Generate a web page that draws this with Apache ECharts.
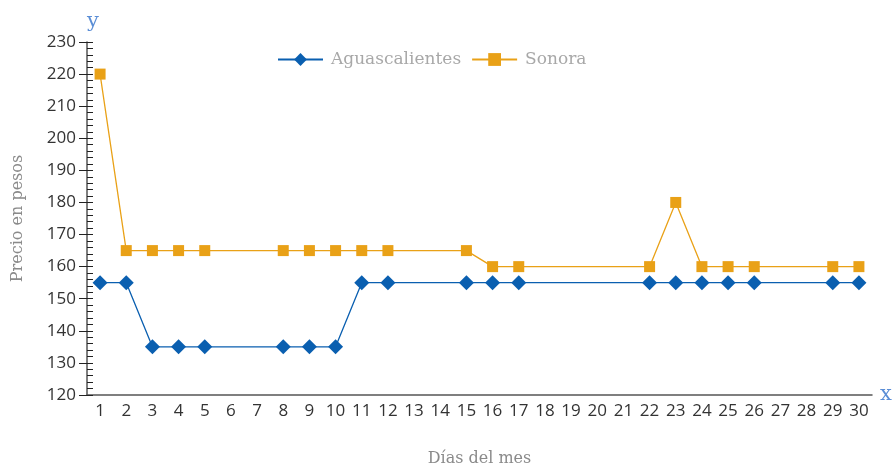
<!DOCTYPE html>
<html>
<head>
<meta charset="utf-8">
<script src="https://cdn.jsdelivr.net/npm/echarts@6/dist/echarts.min.js"></script>
<style>
  html, body { margin: 0; padding: 0; background: #fff; }
  #chart { width: 894px; height: 467px; }
</style>
</head>
<body>
<div id="chart"></div>
<script>
// Days of the month (category axis) and prices; null = no reading that day
const days = Array.from({ length: 30 }, (_, i) => String(i + 1));

const aguascalientes = [155, 155, 135, 135, 135, null, null, 135, 135, 135,
                        155, 155, null, null, 155, 155, 155, null, null, null,
                        null, 155, 155, 155, 155, 155, null, null, 155, 155];

const sonora = [220, 165, 165, 165, 165, null, null, 165, 165, 165,
                165, 165, null, null, 165, 160, 160, null, null, null,
                null, 160, 180, 160, 160, 160, null, null, 160, 160];

const yMin = 120, yMax = 230, yStep = 10;

const BLUE = "#0a5fb0";
const ORANGE = "#e9a117";
const AXIS = "#555";
const NAME_BLUE = "#5b8ed6";
const SERIF = "'DejaVu Serif', 'Liberation Serif', serif";
const SANS = "'Open Sans', 'Noto Sans', sans-serif";

const chart = echarts.init(document.getElementById("chart"), null, { renderer: "canvas" });

const xBase = {
  type: "category",
  data: days,
  boundaryGap: true,
  splitLine: { show: false },
};
const yBase = {
  type: "value",
  min: yMin,
  max: yMax,
  interval: yStep,
  splitLine: { show: false },
};

chart.setOption({
  animation: false,
  backgroundColor: "#fff",
  grid: { left: 87, right: 22, top: 42, bottom: 72, outerBoundsMode: "none", containLabel: false },
  legend: {
    left: 272,
    top: 46,
    itemWidth: 45,
    itemHeight: 16,
    itemGap: 10,
    textStyle: { fontFamily: SERIF, fontSize: 17, color: "#a8a8a8", padding: [0, 0, 0, 3] },
    data: ["Aguascalientes", "Sonora"],
  },
  xAxis: [
    {
      ...xBase,
      name: "x",
      nameLocation: "end",
      nameGap: 8,
      nameTextStyle: { fontFamily: SERIF, fontSize: 21, color: NAME_BLUE, verticalAlign: "middle" },
      axisLine: { lineStyle: { color: AXIS, width: 1.5 } },
      axisTick: { alignWithLabel: true, length: 4, lineStyle: { color: "#222" } },
      axisLabel: { interval: 0, margin: 8, fontFamily: SANS, fontSize: 17, color: "#333" },
    },
    {
      ...xBase,
      position: "bottom",
      name: "Días del mes",
      nameLocation: "middle",
      nameGap: 56,
      nameTextStyle: { fontFamily: SERIF, fontSize: 16, color: "#8a8a8a" },
      axisLine: { show: false },
      axisTick: { alignWithLabel: true, inside: true, length: 7, lineStyle: { color: "#222" } },
      axisLabel: { show: false },
    },
  ],
  yAxis: [
    {
      ...yBase,
      name: "y",
      nameLocation: "end",
      nameGap: 10,
      nameTextStyle: { fontFamily: SERIF, fontSize: 21, color: NAME_BLUE, align: "left" },
      axisLine: { show: true, lineStyle: { color: AXIS, width: 1.5 } },
      axisTick: { show: true, length: 8, lineStyle: { color: "#222" } },
      axisLabel: { margin: 11, fontFamily: SANS, fontSize: 17, color: "#333" },
    },
    {
      ...yBase,
      position: "left",
      name: "Precio en pesos",
      nameLocation: "middle",
      nameGap: 61,
      nameTextStyle: { fontFamily: SERIF, fontSize: 16, color: "#8a8a8a" },
      axisLine: { show: false },
      axisTick: { show: true, inside: true, length: 6, lineStyle: { color: "#222" } },
      minorTick: { show: true, splitNumber: 5, length: 6, lineStyle: { color: "#222" } },
      axisLabel: { show: false },
    },
  ],
  series: [
    {
      name: "Aguascalientes",
      type: "line",
      data: aguascalientes,
      connectNulls: true,
      symbol: "diamond",
      symbolSize: 15,
      itemStyle: { color: BLUE },
      lineStyle: { color: BLUE, width: 1.3 },
    },
    {
      name: "Sonora",
      type: "line",
      data: sonora,
      connectNulls: true,
      symbol: "rect",
      symbolSize: 11,
      itemStyle: { color: ORANGE },
      lineStyle: { color: ORANGE, width: 1.3 },
    },
  ],
});
</script>
</body>
</html>
